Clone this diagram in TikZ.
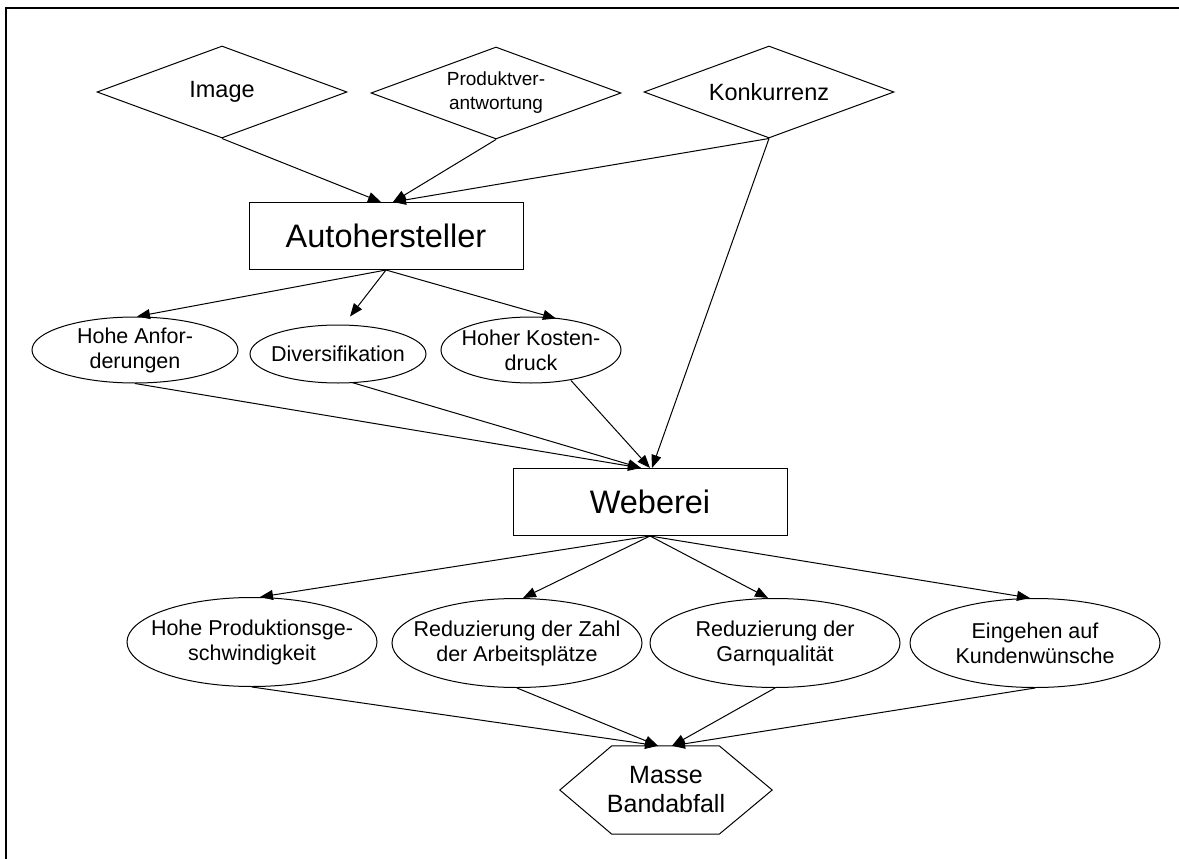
\documentclass[tikz,border=0pt]{standalone}
\usepackage{fontspec}
\setmainfont{Liberation Sans}
\usetikzlibrary{shapes.geometric,arrows.meta}
\begin{document}
\begin{tikzpicture}[x=1pt,y=-1pt,
  every node/.style={inner sep=0pt, align=center},
  conn/.style={-{Triangle[length=13pt,width=10pt]}, line width=1pt},
  cause/.style={diamond, draw, line width=1pt, inner xsep=-30pt, inner ysep=-12pt,
    minimum width=250pt, minimum height=92pt, font=\fontsize{23.5}{27}\selectfont},
  actor/.style={rectangle, draw, line width=1pt, minimum width=274pt, minimum height=67pt,
    font=\fontsize{32.5}{38}\selectfont},
  effect/.style={ellipse, draw, line width=1pt, inner xsep=-45pt, inner ysep=0pt,
    minimum width=206pt, minimum height=66pt, font=\fontsize{21.5}{25}\selectfont},
  measure/.style={ellipse, draw, line width=1pt, inner xsep=-45pt, inner ysep=0pt,
    minimum width=250pt, minimum height=89pt, font=\fontsize{21.5}{25}\selectfont},
]
\useasboundingbox (0,0) rectangle (1179,859);

% outer frame
\draw[line width=2.4pt] (1190,8) -- (6,8) -- (6,870);

% influences
\node[cause] (img)  at (222,92) {Image};
\node[cause, font=\fontsize{19}{24}\selectfont] (prod) at (496,93) {Produktver-\\antwortung};
\node[cause] (konk) at (769,92) {Konkurrenz};

% actors
\node[actor] (auto) at (386,236) {Autohersteller};
\node[actor] (web)  at (650,502) {Weberei};

% demands on the weaving mill
\node[effect] (ha)  at (135,350) {Hohe Anfor-\\derungen};
\node[effect, minimum width=176pt, minimum height=58pt] (div) at (338,354) {Diversifikation};
\node[effect, minimum width=180pt] (hk)  at (531,350) {Hoher Kosten-\\druck};

% reactions
\node[measure] (hp) at (252,642) {Hohe Produktionsge-\\schwindigkeit};
\node[measure] (rz) at (517,643) {Reduzierung der Zahl\\der Arbeitsplätze};
\node[measure] (rg) at (775,643) {Reduzierung der\\Garnqualität};
\node[measure] (ek) at (1035,643) {Eingehen auf\\Kundenwünsche};

% result
\node[minimum width=212pt, minimum height=88pt, font=\fontsize{25}{29}\selectfont] (waste) at (666,790) {Masse\\Bandabfall};
\draw[line width=1pt] (waste.west) -- ([xshift=52pt]waste.north west) -- ([xshift=-53pt]waste.north east)
  -- (waste.east) -- ([xshift=-53pt]waste.south east) -- ([xshift=52pt]waste.south west) -- cycle;

% connectors
\draw[conn] (img.south)  -- ([xshift=-5pt]auto.north);
\draw[conn] (prod.south) -- ([xshift=7pt]auto.north);
\draw[conn] (konk.south) -- ([xshift=7pt]auto.north);
\draw[conn] (konk.south) -- ([xshift=2pt]web.north);

\draw[conn] (auto.south) -- ([xshift=2pt]ha.north);
\draw[conn] (auto.south) -- ([xshift=12pt,yshift=8pt]div.north);
\draw[conn] (auto.south) -- ([xshift=25pt,yshift=-2pt]hk.north);

\draw[conn] (ha.south)  -- ([xshift=-9pt]web.north);
\draw[conn] ([xshift=14pt,yshift=1pt]div.south) -- ([xshift=-9pt]web.north);
\draw[conn] ([xshift=40pt,yshift=3pt]hk.south)  -- ([xshift=0pt]web.north);

\draw[conn] (web.south) -- ([xshift=8pt]hp.north);
\draw[conn] (web.south) -- ([xshift=6pt]rz.north);
\draw[conn] (web.south) -- ([xshift=-7pt]rg.north);
\draw[conn] (web.south) -- ([xshift=-5pt]ek.north);

\draw[conn] (hp.south) -- ([xshift=-8pt]waste.north);
\draw[conn] (rz.south) -- ([xshift=-8pt]waste.north);
\draw[conn] (rg.south) -- ([xshift=6pt]waste.north);
\draw[conn] (ek.south) -- ([xshift=6pt]waste.north);
\end{tikzpicture}
\end{document}
